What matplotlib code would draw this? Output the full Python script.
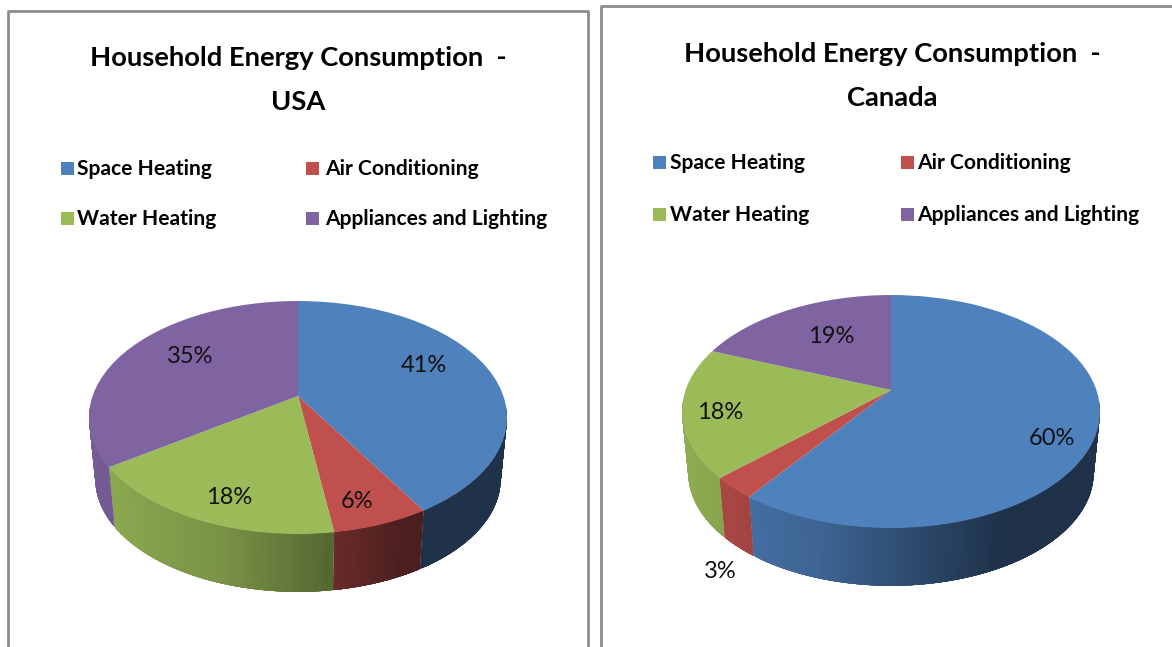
import numpy as np
import matplotlib
matplotlib.use('Agg')
import matplotlib.pyplot as plt
from matplotlib.collections import PolyCollection
from matplotlib.colors import to_rgb
from matplotlib.transforms import Transform

#data, the labels show them rounded
categories = ['Space Heating', 'Air Conditioning', 'Water Heating', 'Appliances and Lighting']
usa_values = [41.4, 6.3, 17.7, 34.6]
canada_values = [60, 3, 18, 19]
colors = ['#4F81BD', '#C0504D', '#9BBB59', '#8064A2']

FONT = ['Lato', 'DejaVu Sans']


#tilts the flat pie so that it looks like a disc seen from above
class Tilt(Transform):
    input_dims = 2
    output_dims = 2

    def __init__(self, cx, cy, a, b, p):
        super().__init__()
        self.cx, self.cy, self.a, self.b, self.p = cx, cy, a, b, p

    def transform_non_affine(self, values):
        values = np.asarray(values)
        d = 1 + self.p * values[:, 1]
        return np.column_stack((self.cx + self.a * values[:, 0] / d,
                                self.cy - self.b * values[:, 1] / d))


#shade of the side wall at a place from left (0) to right (1)
def wall_colors(color, f):
    k = np.interp(f, [0, 0.32, 0.58, 0.76, 1], [0.92, 0.78, 0.55, 0.39, 0.39])
    return np.array(to_rgb(color)) * k[:, None]


def draw_pie(ax, values, cx, cy, label_xy):
    wedges, _ = ax.pie(values, colors=colors, startangle=90, counterclock=False)
    ax.set_aspect('auto')
    top = Tilt(cx, cy, 205.4, 112.5, 0.1845)
    low = Tilt(cx, cy + 62, 205.4 * 0.97, 112.5 * 0.97, 0.1845)
    for wedge, color in zip(wedges, colors):
        wedge.set_transform(top + ax.transData)
        t = np.radians(np.linspace(wedge.theta1, wedge.theta2, 400))
        t = t[np.sin(t) < -0.1]  #the back of the wall is hidden
        if len(t) < 8:
            continue
        rim = np.column_stack((np.cos(t), np.sin(t)))
        a, b = top.transform(rim), low.transform(rim)
        #strips overlap each other so no seams show between them
        quads = np.stack((a[:-6], a[6:], b[6:], b[:-6]), axis=1)
        shades = wall_colors(color, (a[:-6, 0] - cx + 209) / 418)
        ax.add_collection(PolyCollection(quads, facecolors=shades, edgecolors='none',
                                         linewidths=0, zorder=0.5))
    for v, (x, y) in zip(values, label_xy):
        ax.text(x, y + 1.5, f'{v:.0f}%', fontsize=17, family=FONT, color='#111111',
                ha='center', va='center', zorder=5)


def draw_titles(ax, name, cx, y1, y2):
    ax.text(cx, y1 + 1.5, 'Household Energy Consumption  -', fontsize=19.7, family=FONT,
            fontweight='bold', ha='center', va='center', color='black')
    ax.text(cx, y2 + 1.5, name, fontsize=19.7, family=FONT,
            fontweight='bold', ha='center', va='center', color='black')


def draw_legend(ax, sq_x, text_x, rows):
    for i, cat in enumerate(categories):
        col, row = i % 2, i // 2
        ax.fill_between([sq_x[col], sq_x[col] + 13], rows[row] - 6.5, rows[row] + 6.5,
                        color=colors[i], lw=0)
        ax.text(text_x[col], rows[row] + 1, cat, fontsize=15.1, family=FONT,
                fontweight='bold', ha='left', va='center', color='black')


fig = plt.figure(figsize=(11.72, 6.47), dpi=100)
ax = fig.add_axes([0, 0, 1, 1])

#frames of the two charts, cut off by the bottom of the picture
ax.plot([8, 8, 588, 588], [650, 11, 11, 650], color='#8c8c8c', lw=2)
ax.plot([601, 601, 1175], [650, 6, 6], color='#8c8c8c', lw=2)

draw_pie(ax, usa_values, 298, 396, [(424, 364), (357, 500), (229, 496), (190, 355)])
draw_pie(ax, canada_values, 891, 390, [(1052, 437), (720, 570), (720, 411), (831, 335)])

draw_titles(ax, 'USA', 298, 57, 100)
draw_titles(ax, 'Canada', 892, 53, 96)
draw_legend(ax, [61, 306], [77, 325], [168, 218])
draw_legend(ax, [653, 901], [670, 917], [162, 214])

ax.set_xlim(0, 1172)
ax.set_ylim(647, 0)
ax.axis('off')
fig.savefig('out.png', dpi=100)
